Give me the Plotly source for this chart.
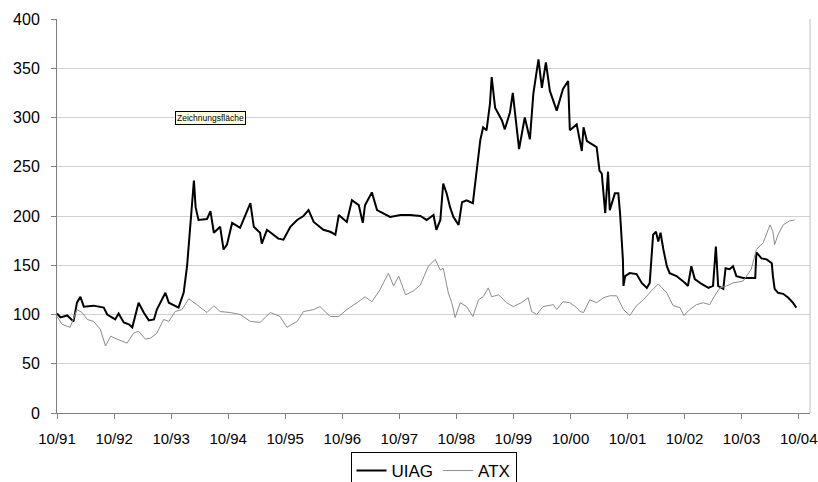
import numpy as np
import pandas as pd
import plotly.graph_objects as go

# time in years after 10/91
uiag_t = [0.00, 0.06, 0.18, 0.29, 0.35, 0.41, 0.47, 0.64, 0.82, 0.88, 1.02, 1.08, 1.17, 1.26, 1.32,
          1.43, 1.52, 1.61, 1.70, 1.75, 1.90, 1.96, 2.13, 2.22, 2.28, 2.34, 2.40, 2.43, 2.48, 2.63,
          2.69, 2.75, 2.86, 2.92, 2.98, 3.07, 3.21, 3.39, 3.45, 3.56, 3.59, 3.68, 3.88, 3.97, 4.09,
          4.21, 4.32, 4.41, 4.50, 4.67, 4.79, 4.88, 4.94, 5.08, 5.17, 5.29, 5.36, 5.40, 5.52, 5.61,
          5.72, 5.84, 6.02, 6.19, 6.37, 6.48, 6.60, 6.65, 6.72, 6.77, 6.83, 6.89, 6.95, 7.04, 7.10,
          7.18, 7.29, 7.36, 7.42, 7.47, 7.53, 7.59, 7.62, 7.68, 7.80, 7.85, 7.94, 7.99, 8.03, 8.10,
          8.20, 8.29, 8.35, 8.44, 8.50, 8.57, 8.64, 8.76, 8.87, 8.96, 8.99, 9.11, 9.20, 9.23, 9.29,
          9.37, 9.46, 9.51, 9.55, 9.61, 9.66, 9.69, 9.78, 9.84, 9.87, 9.92, 9.93, 9.96, 10.04, 10.16,
          10.25, 10.34, 10.39, 10.45, 10.50, 10.54, 10.58, 10.63, 10.69, 10.74, 10.86, 11.01, 11.06,
          11.12, 11.18, 11.30, 11.42, 11.50, 11.55, 11.59, 11.68, 11.72, 11.79, 11.85, 11.91, 12.03,
          12.15, 12.24, 12.26, 12.35, 12.44, 12.53, 12.55, 12.58, 12.64, 12.73, 12.82, 12.90, 12.96]
uiag_v = [101, 97, 99, 93, 112, 118, 108, 109, 107, 100, 95, 101, 92, 90, 87,
          112, 102, 94, 95, 105, 122, 112, 107, 122, 149, 193, 236, 209, 196, 197,
          205, 183, 189, 166, 171, 193, 188, 213, 189, 183, 172, 186, 177, 176, 189,
          196, 200, 206, 194, 186, 184, 181, 201, 194, 216, 211, 193, 211, 224, 206,
          203, 199, 201, 201, 200, 196, 201, 186, 196, 233, 223, 209, 199, 191, 214,
          216, 213, 250, 277, 290, 287, 314, 341, 310, 297, 288, 305, 325, 304, 268,
          300, 278, 324, 359, 330, 356, 327, 307, 329, 337, 287, 293, 266, 290, 276,
          273, 270, 246, 243, 203, 245, 206, 223, 223, 203, 156, 129, 139, 142, 141,
          132, 127, 132, 181, 184, 174, 183, 166, 149, 142, 139, 132, 129,
          149, 136, 131, 127, 129, 169, 129, 126, 147, 146, 149, 139, 137,
          137, 137, 163, 157, 156, 152, 139, 126, 122, 121, 117, 112, 107]

atx_t = [0.00, 0.09, 0.23, 0.35, 0.44, 0.53, 0.64, 0.76, 0.85, 0.94, 1.05, 1.23, 1.34, 1.43, 1.55,
         1.64, 1.75, 1.87, 1.96, 2.07, 2.19, 2.31, 2.45, 2.63, 2.75, 2.86, 3.04, 3.21, 3.39, 3.56,
         3.74, 3.91, 4.03, 4.21, 4.32, 4.50, 4.61, 4.79, 4.94, 5.08, 5.26, 5.40, 5.52, 5.66, 5.81,
         5.90, 5.99, 6.11, 6.25, 6.37, 6.51, 6.63, 6.72, 6.77, 6.86, 6.92, 6.98, 7.07, 7.18, 7.29,
         7.39, 7.47, 7.56, 7.62, 7.74, 7.88, 8.00, 8.14, 8.26, 8.32, 8.41, 8.52, 8.70, 8.76, 8.87,
         8.99, 9.11, 9.17, 9.23, 9.34, 9.46, 9.58, 9.69, 9.81, 9.93, 10.04, 10.16, 10.28, 10.42,
         10.54, 10.69, 10.80, 10.92, 10.99, 11.09, 11.21, 11.33, 11.44, 11.53, 11.62, 11.74, 11.85,
         12.03, 12.17, 12.26, 12.38, 12.50, 12.55, 12.58, 12.64, 12.73, 12.84, 12.93]
atx_v = [98, 90, 87, 105, 102, 95, 93, 85, 68, 78, 75, 71, 81, 83, 75,
         76, 81, 95, 93, 103, 105, 116, 110, 102, 109, 103, 102, 100, 93, 92,
         102, 98, 87, 93, 103, 105, 108, 98, 98, 105, 112, 118, 113, 125, 142,
         129, 139, 120, 124, 130, 149, 156, 145, 147, 122, 112, 97, 112, 108, 98,
         115, 118, 127, 118, 120, 112, 108, 112, 117, 103, 100, 108, 110, 105, 113,
         112, 107, 103, 102, 115, 112, 117, 119, 119, 105, 99, 109, 115, 124,
         131, 122, 109, 107, 99, 105, 110, 112, 110, 119, 127, 129, 132,
         134, 146, 166, 173, 191, 184, 171, 181, 191, 195, 196]

tick_labels = ["10/91", "10/92", "10/93", "10/94", "10/95", "10/96", "10/97",
               "10/98", "10/99", "10/00", "10/01", "10/02", "10/03", "10/04"]

base = pd.Timestamp("1991-10-01")
def to_dates(t):
    return base + pd.to_timedelta(np.array(t) * 365.25, unit="D")

tick_dates = [pd.Timestamp(year=1991 + i, month=10, day=1) for i in range(len(tick_labels))]

fig = go.Figure()
fig.add_trace(go.Scatter(x=to_dates(uiag_t), y=uiag_v, mode="lines", name="UIAG",
                         line=dict(color="#000000", width=2)))
fig.add_trace(go.Scatter(x=to_dates(atx_t), y=atx_v, mode="lines", name="ATX",
                         line=dict(color="#8c8c8c", width=1)))

font_family = "Liberation Sans, Arial, sans-serif"
fig.update_layout(
    width=818, height=482,
    margin=dict(l=57, r=8, t=19, b=69, autoexpand=False),
    paper_bgcolor="white", plot_bgcolor="white",
    font=dict(family=font_family, color="#000000"),
    showlegend=True,
    legend=dict(orientation="h", x=0.5, xanchor="center", y=-0.099, yanchor="top",
                bordercolor="#000000", borderwidth=1, font=dict(size=17),
                bgcolor="white", itemwidth=30, tracegroupgap=0),
    xaxis=dict(
        type="date", automargin=False,
        range=[base, base + pd.Timedelta(days=13.2 * 365.25)],
        tickvals=tick_dates, ticktext=tick_labels,
        showgrid=False, showline=True, linecolor="#808080", linewidth=1,
        ticks="outside", ticklen=5, tickcolor="#808080",
        tickfont=dict(size=15), ticklabelstandoff=7,
    ),
    yaxis=dict(
        automargin=False,
        range=[0, 400], dtick=50, tick0=0,
        showgrid=True, gridcolor="#d0d0d0", gridwidth=1,
        zeroline=False, showline=True, linecolor="#808080", linewidth=1,
        ticks="outside", ticklen=5, tickcolor="#808080",
        tickfont=dict(size=16), ticklabelstandoff=8,
    ),
    shapes=[dict(type="line", xref="paper", yref="paper", x0=1, x1=1, y0=0, y1=1,
                 line=dict(color="#c0c0c0", width=1))],
    annotations=[dict(text="Zeichnungsfläche", xref="paper", yref="paper",
                      x=0.2039, y=0.75, xanchor="center", yanchor="middle",
                      showarrow=False, font=dict(size=8.5, family=font_family, color="#000000"),
                      bgcolor="#ffffe1", bordercolor="#000000", borderwidth=1, borderpad=1)],
)

fig.write_html("out.html")
